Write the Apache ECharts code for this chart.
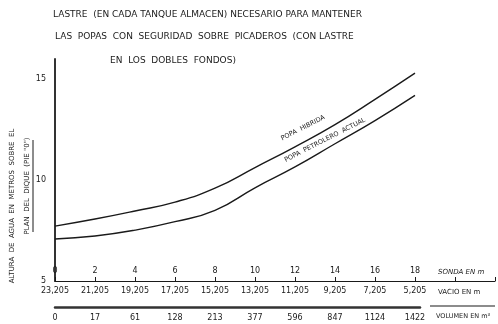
<!DOCTYPE html>
<html>
<head>
<meta charset="utf-8">
<script src="https://cdn.jsdelivr.net/npm/echarts@6/dist/echarts.min.js"></script>
<style>
  html, body { margin: 0; padding: 0; background: #fff; }
  #chart { width: 498px; height: 324px; }
</style>
</head>
<body>
<div id="chart"></div>
<script>
// sonda en m (x axis) and its companion scales
const sonda = [0, 2, 4, 6, 8, 10, 12, 14, 16, 18];
const vacio = ['23,205', '21,205', '19,205', '17,205', '15,205', '13,205', '11,205', '9,205', '7,205', '5,205'];
const volumen = ['0', '17', '61', '128', '213', '377', '596', '847', '1124', '1422'];

// altura de agua (m)
const popaHibrida = [7.72, 8.07, 8.47, 8.91, 9.6, 10.62, 11.65, 12.75, 14.0, 15.3];
const popaPetrolero = [7.08, 7.23, 7.52, 7.94, 8.5, 9.62, 10.65, 11.8, 12.95, 14.2];

const ink = '#1a1a1a';
const font = 'DejaVu Sans';

const chart = echarts.init(document.getElementById('chart'));

const idx = v => Math.round(v / 2);

chart.setOption({
  backgroundColor: '#fff',
  animation: false,
  grid: [
    { left: 55, right: 3, top: 59, bottom: 43 },
    { left: 55, right: 78, top: 300, bottom: 17 }
  ],
  xAxis: [
    {
      type: 'value', gridIndex: 0, min: 0, max: 22, interval: 2,
      position: 'bottom',
      axisLine: { onZero: false, lineStyle: { color: ink, width: 1.2 } },
      axisTick: { inside: true, length: 4, lineStyle: { color: ink } },
      axisLabel: {
        inside: true, margin: 6, color: ink, fontSize: 8, fontFamily: font,
        formatter: v => (v <= 18 ? String(v) : '')
      },
      splitLine: { show: false }
    },
    {
      type: 'value', gridIndex: 0, min: 0, max: 22, interval: 2,
      position: 'bottom', offset: 0,
      axisLine: { show: false },
      axisTick: { show: false },
      axisLabel: {
        margin: 6, color: ink, fontSize: 8, fontFamily: font,
        formatter: v => (v <= 18 ? vacio[idx(v)] : '')
      },
      splitLine: { show: false }
    },
    {
      type: 'value', gridIndex: 1, min: 0, max: 18.25, interval: 2,
      position: 'bottom',
      axisLine: { onZero: false, lineStyle: { color: '#333', width: 2.5 } },
      axisTick: { show: false },
      axisLabel: {
        margin: 7, color: ink, fontSize: 8, fontFamily: font, showMaxLabel: false,
        formatter: v => (v <= 18 ? volumen[idx(v)] : '')
      },
      splitLine: { show: false }
    }
  ],
  yAxis: [
    {
      type: 'value', gridIndex: 0, min: 5, max: 16, interval: 5,
      axisLine: { show: true, lineStyle: { color: '#333', width: 2 } },
      axisTick: { show: false },
      axisLabel: { margin: 9, color: ink, fontSize: 8, fontFamily: font, showMaxLabel: false },
      splitLine: { show: false }
    },
    { type: 'value', gridIndex: 1, show: false }
  ],
  series: [
    {
      name: 'POPA HIBRIDA', type: 'line', xAxisIndex: 0, yAxisIndex: 0,
      smooth: 0.5, showSymbol: false,
      lineStyle: { color: ink, width: 1.4 },
      data: sonda.map((x, i) => [x, popaHibrida[i]])
    },
    {
      name: 'POPA PETROLERO ACTUAL', type: 'line', xAxisIndex: 0, yAxisIndex: 0,
      smooth: 0.5, showSymbol: false,
      lineStyle: { color: ink, width: 1.4 },
      data: sonda.map((x, i) => [x, popaPetrolero[i]])
    }
  ],
  graphic: [
    { type: 'text', left: 53, top: 10, style: { text: 'LASTRE  (EN CADA TANQUE ALMACEN) NECESARIO PARA MANTENER', fill: ink, font: '9px ' + font } },
    { type: 'text', left: 55, top: 32, style: { text: 'LAS  POPAS  CON  SEGURIDAD  SOBRE  PICADEROS  (CON LASTRE', fill: ink, font: '9px ' + font } },
    { type: 'text', left: 110, top: 56, style: { text: 'EN  LOS  DOBLES  FONDOS)', fill: ink, font: '9px ' + font } },
    {
      type: 'text', x: 12, y: 206, rotation: Math.PI / 2,
      style: { text: 'ALTURA  DE  AGUA  EN  METROS  SOBRE  EL', fill: ink, font: '7px ' + font, align: 'center', verticalAlign: 'middle' }
    },
    {
      type: 'text', x: 27, y: 186, rotation: Math.PI / 2,
      style: { text: 'PLAN  DEL  DIQUE  (PIE "0")', fill: ink, font: '7px ' + font, align: 'center', verticalAlign: 'middle' }
    },
    { type: 'line', shape: { x1: 33, y1: 140, x2: 33, y2: 232 }, style: { stroke: ink, lineWidth: 1 } },
    {
      type: 'text', x: 303, y: 128, rotation: 27 * Math.PI / 180,
      style: { text: 'POPA  HIBRIDA', fill: ink, font: '6.5px ' + font, align: 'center', verticalAlign: 'middle' }
    },
    {
      type: 'text', x: 325, y: 140, rotation: 27 * Math.PI / 180,
      style: { text: 'POPA  PETROLERO  ACTUAL', fill: ink, font: '6.5px ' + font, align: 'center', verticalAlign: 'middle' }
    },
    { type: 'text', left: 438, top: 269, style: { text: 'SONDA EN m', fill: ink, font: 'italic 7px ' + font } },
    { type: 'text', left: 438, top: 289, style: { text: 'VACIO EN m', fill: ink, font: '7px ' + font } },
    { type: 'line', shape: { x1: 430, y1: 306, x2: 495, y2: 306 }, style: { stroke: ink, lineWidth: 1.2 } },
    { type: 'text', left: 436, top: 313, style: { text: 'VOLUMEN EN m³', fill: ink, font: '6.5px ' + font } }
  ]
});
</script>
</body>
</html>
